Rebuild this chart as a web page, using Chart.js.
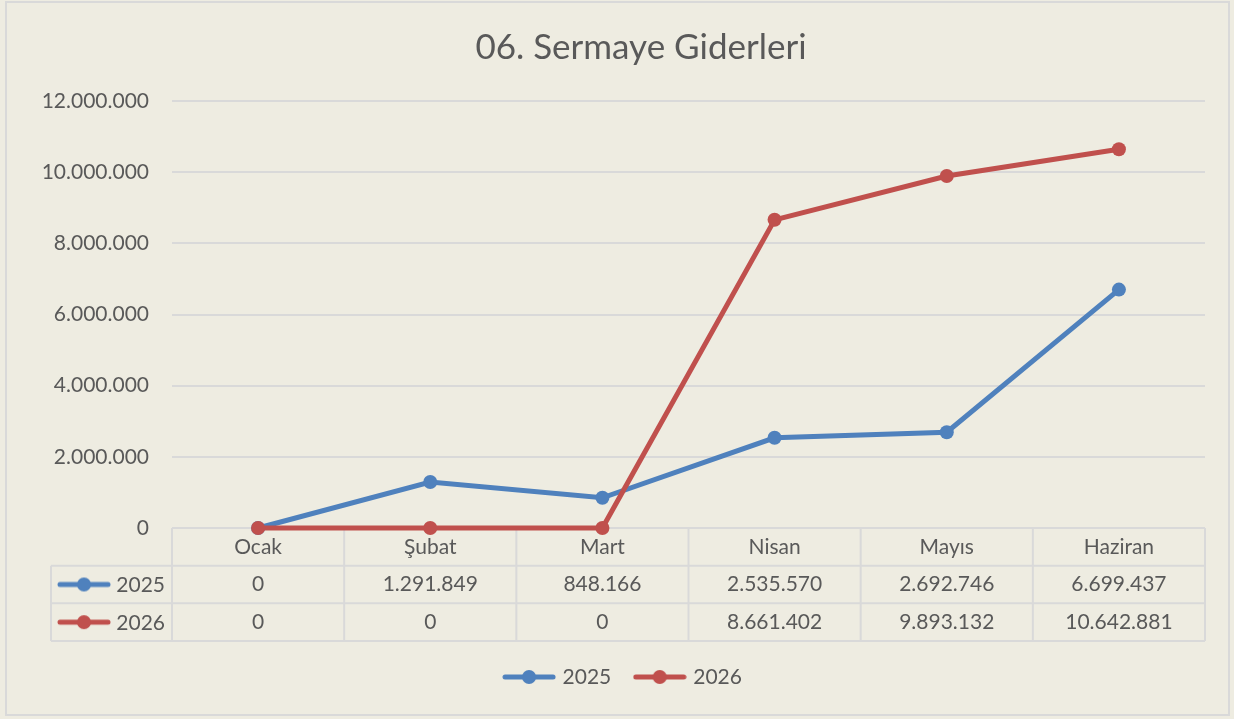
<!DOCTYPE html>
<html>
<head>
<meta charset="utf-8">
<style>
  html, body { margin: 0; padding: 0; background: #ffffff; }
  #wrap { width: 1234px; height: 719px; }
</style>
<script src="https://cdn.jsdelivr.net/npm/chart.js"></script>
</head>
<body>
<div id="wrap"><canvas id="chart" width="1234" height="719"></canvas></div>
<script>
const months = ["Ocak", "Şubat", "Mart", "Nisan", "Mayıs", "Haziran"];
const seriesNames = ["2025", "2026"];
const values2025 = [0, 1291849, 848166, 2535570, 2692746, 6699437];
const values2026 = [0, 0, 0, 8661402, 9893132, 10642881];
const yTicks = [0, 2000000, 4000000, 6000000, 8000000, 10000000, 12000000];
const chartTitle = "06. Sermaye Giderleri";

const BLUE = "#4F81BD";
const RED = "#C0504D";
const TEXT = "#595959";
const LINE = "#D9D9D9";
const FONT = "Lato, 'Open Sans', sans-serif";

// dotted thousands, Turkish style
const fmt = (v) => String(Math.round(v)).replace(/\B(?=(\d{3})+(?!\d))/g, ".");

// line + dot key, used by the legend and the table rows
function lineMarker(color) {
  const c = document.createElement("canvas");
  c.width = 54;
  c.height = 16;
  const g = c.getContext("2d");
  g.strokeStyle = color;
  g.lineWidth = 5;
  g.lineCap = "round";
  g.beginPath();
  g.moveTo(3, 8);
  g.lineTo(51, 8);
  g.stroke();
  g.fillStyle = color;
  g.beginPath();
  g.arc(27, 8, 7, 0, Math.PI * 2);
  g.fill();
  return c;
}
const markers = [lineMarker(BLUE), lineMarker(RED)];

const backgroundPlugin = {
  id: "bg",
  beforeDraw(chart) {
    const { ctx, width, height } = chart;
    ctx.save();
    ctx.fillStyle = "#EEECE1";
    ctx.fillRect(0, 0, width, height);
    ctx.strokeStyle = LINE;
    ctx.lineWidth = 2;
    ctx.strokeRect(6, 2, width - 11, height - 6);
    // title (Excel puts it a little right of centre)
    ctx.fillStyle = TEXT;
    ctx.font = "35px " + FONT;
    ctx.textAlign = "center";
    ctx.textBaseline = "middle";
    ctx.fillText(chartTitle, 641, 48);
    ctx.restore();
  },
};

const tablePlugin = {
  id: "dataTable",
  beforeDatasetsDraw(chart) {
    const { ctx, chartArea, scales } = chart;
    const x = scales.x;
    const top = chartArea.bottom;
    const rowH = 113 / 3;
    const colW = x.getPixelForValue(1) - x.getPixelForValue(0);
    const left = chartArea.left;
    const right = chartArea.right;
    const keyLeft = left - 121;
    const bottom = top + rowH * 3;
    const rows = [values2025, values2026];

    ctx.save();
    ctx.strokeStyle = LINE;
    ctx.lineWidth = 2;
    ctx.beginPath();
    ctx.moveTo(left, top); ctx.lineTo(right, top);
    for (let r = 1; r <= 3; r++) {
      const y = top + rowH * r;
      ctx.moveTo(keyLeft, y); ctx.lineTo(right, y);
    }
    ctx.moveTo(keyLeft, top + rowH); ctx.lineTo(keyLeft, bottom);
    for (let i = 0; i <= months.length; i++) {
      const xx = left + colW * i;
      ctx.moveTo(xx, top); ctx.lineTo(xx, bottom);
    }
    ctx.stroke();

    ctx.fillStyle = TEXT;
    ctx.font = "21px " + FONT;
    ctx.textAlign = "center";
    ctx.textBaseline = "middle";
    months.forEach((m, i) => {
      const cx = x.getPixelForValue(i);
      ctx.fillText(m, cx, top + rowH / 2);
      rows.forEach((vals, r) => {
        ctx.fillText(fmt(vals[i]), cx, top + rowH * (r + 1.5));
      });
    });

    ctx.textAlign = "right";
    rows.forEach((vals, r) => {
      const cy = top + rowH * (r + 1.5);
      ctx.drawImage(markers[r], keyLeft + 6, cy - 8);
      ctx.fillText(seriesNames[r], left - 7, cy + 1);
    });
    ctx.restore();
  },
};

new Chart(document.getElementById("chart"), {
  type: "line",
  data: {
    labels: months,
    datasets: [
      {
        label: seriesNames[0],
        data: values2025,
        borderColor: BLUE,
        backgroundColor: BLUE,
        pointBackgroundColor: BLUE,
        borderWidth: 5,
        pointRadius: 7,
        pointBorderWidth: 0,
        pointHoverRadius: 7,
        tension: 0,
        clip: false,
        order: 1,
      },
      {
        label: seriesNames[1],
        data: values2026,
        borderColor: RED,
        backgroundColor: RED,
        pointBackgroundColor: RED,
        borderWidth: 5,
        pointRadius: 7,
        pointBorderWidth: 0,
        pointHoverRadius: 7,
        tension: 0,
        clip: false,
        order: 0,
      },
    ],
  },
  options: {
    responsive: false,
    devicePixelRatio: 1,
    animation: false,
    layout: { padding: { left: 43, right: 29, top: 101, bottom: 21.5 } },
    plugins: {
      tooltip: { enabled: false },
      title: { display: false },
      legend: {
        position: "bottom",
        labels: {
          usePointStyle: true,
          pointStyleWidth: 46,
          color: TEXT,
          font: { family: FONT, size: 21 },
          padding: 25.5,
          sort: (a, b) => a.datasetIndex - b.datasetIndex,
          generateLabels(chart) {
            const items = Chart.defaults.plugins.legend.labels.generateLabels(chart);
            items.forEach((it) => { it.pointStyle = markers[it.datasetIndex]; });
            return items;
          },
        },
      },
    },
    scales: {
      x: {
        offset: true,
        grid: { display: false },
        border: { display: false },
        ticks: { display: false },
        afterFit(axis) { axis.height = 113; },
      },
      y: {
        min: 0,
        max: 12000000,
        afterBuildTicks(axis) { axis.ticks = yTicks.map((v) => ({ value: v })); },
        ticks: {
          color: TEXT,
          font: { family: FONT, size: 21 },
          padding: 23,
          callback: (v) => fmt(v),
        },
        grid: { color: LINE, lineWidth: 2, drawTicks: false },
        border: { display: false },
        afterFit(axis) { axis.width = 129; },
      },
    },
  },
  plugins: [backgroundPlugin, tablePlugin],
});
</script>
</body>
</html>
